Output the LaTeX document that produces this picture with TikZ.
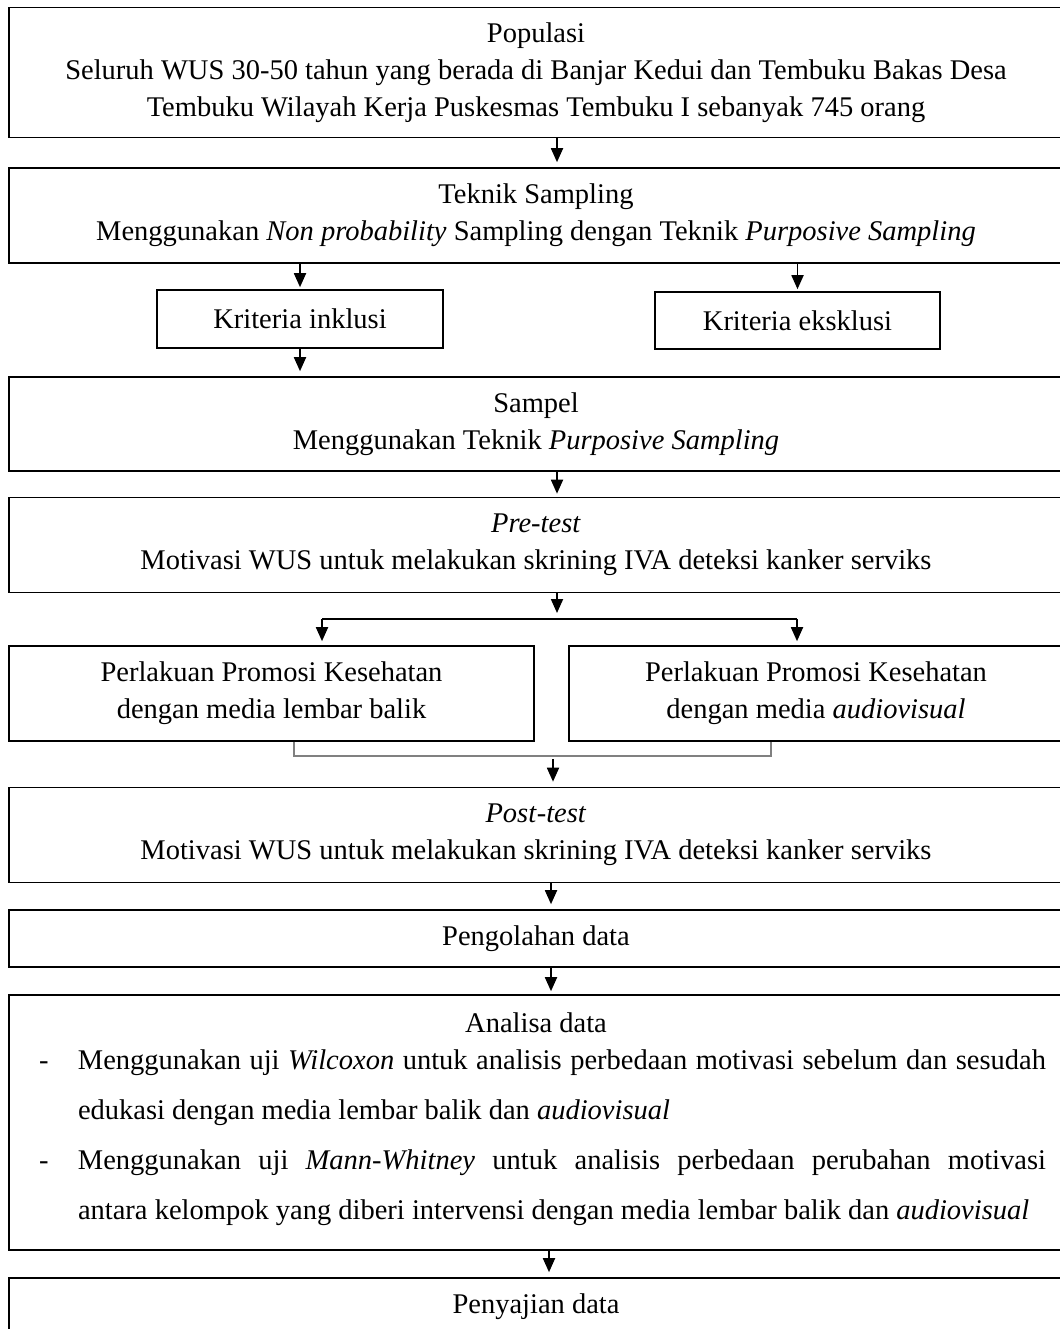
\documentclass[tikz,border=0pt]{standalone}
\usepackage{fontspec}
\setmainfont{Liberation Serif}
\usetikzlibrary{arrows.meta}

\tikzset{
  kotak/.style={draw, line width=1.6pt, inner sep=0pt, align=center,
    font=\fontsize{28.5}{37}\selectfont},
  teks/.style={inner sep=0pt, font=\fontsize{28.5}{37}\selectfont},
  panah/.style={-{Triangle[width=12pt,length=14pt]}, line width=1.8pt},
  garis/.style={line width=1.8pt},
  kurung/.style={draw=gray, line width=1.5pt},
}

\begin{document}
\begin{tikzpicture}[x=1pt,y=-1pt]
    \useasboundingbox (0,0) rectangle (1059,1329);

    % kotak utama
    \node[kotak, minimum width=1054pt, minimum height=130pt] (populasi) at (536,72.5)
        {Populasi\\Seluruh WUS 30-50 tahun yang berada di Banjar Kedui dan Tembuku Bakas Desa\\Tembuku Wilayah Kerja Puskesmas Tembuku I sebanyak 745 orang};
    \node[kotak, minimum width=1054pt, minimum height=95pt] (teknik) at (536,215.5)
        {Teknik Sampling\\Menggunakan \textit{Non probability} Sampling dengan Teknik \textit{Purposive Sampling}};

    \node[kotak, minimum width=286pt, minimum height=58pt] (inklusi) at (300,319) {Kriteria inklusi};
    \node[kotak, minimum width=285pt, minimum height=57pt] (eksklusi) at (797.5,320.5) {Kriteria eksklusi};

    \node[kotak, minimum width=1054pt, minimum height=94pt] (sampel) at (536,424)
        {Sampel\\Menggunakan Teknik \textit{Purposive Sampling}};
    \node[kotak, minimum width=1054pt, minimum height=95pt] (pretest) at (536,545)
        {\textit{Pre}-\textit{test}\\Motivasi WUS untuk melakukan skrining IVA deteksi kanker serviks};

    \node[kotak, minimum width=525pt, minimum height=95pt] (lembar) at (271.5,693.5)
        {Perlakuan Promosi Kesehatan\\dengan media lembar balik};
    \node[kotak, minimum width=494pt, minimum height=95pt] (audio) at (816,693.5)
        {Perlakuan Promosi Kesehatan\\dengan media \textit{audiovisual}};

    \node[kotak, minimum width=1054pt, minimum height=95pt] (posttest) at (536,835)
        {\textit{Post}-\textit{test}\\Motivasi WUS untuk melakukan skrining IVA deteksi kanker serviks};
    \node[kotak, minimum width=1054pt, minimum height=57pt] (olah) at (536,938.5) {Pengolahan data};

    \node[kotak, minimum width=1054pt, minimum height=255pt] (analisa) at (536,1122.5) {};
    \node[teks] (judulanalisa) at (536,1023) {Analisa data};
    \node[teks, font=\fontsize{28.5}{50}\selectfont, text width=1007pt, align=justify] (isianalisa) at (542.5,1138)
        {\hyphenpenalty=10000\exhyphenpenalty=10000\parindent=0pt
         \hangindent=39pt\hangafter=1\makebox[39pt][l]{-}Menggunakan uji \textit{Wilcoxon} untuk analisis perbedaan motivasi sebelum dan sesudah\linebreak edukasi dengan media lembar balik dan \textit{audiovisual}\par
         \hangindent=39pt\hangafter=1\makebox[39pt][l]{-}Menggunakan uji \textit{Mann-Whitney} untuk analisis perbedaan perubahan motivasi\linebreak antara kelompok yang diberi intervensi dengan media lembar balik dan \textit{audiovisual}\par};

    \node[kotak, minimum width=1054pt, minimum height=58pt] (saji) at (536,1307) {Penyajian data};

    % titik bantu
    \coordinate (a1) at (557,0);
    \coordinate (a2) at (551,0);
    \coordinate (a3) at (549,0);
    \coordinate (cabang) at (557,619);
    \coordinate (kiri) at (322,619);
    \coordinate (kanan) at (797,619);
    \coordinate (k1) at (294,756);
    \coordinate (k2) at (771,756);
    \coordinate (gabung) at (553,759);

    % panah
    \draw[panah, shorten >=5pt] (populasi.south -| a1) -- (teknik.north -| a1);
    \draw[panah, shorten >=2pt] (teknik.south -| inklusi) -- (inklusi.north);
    \draw[panah, shorten >=2pt] (teknik.south -| eksklusi) -- (eksklusi.north);
    \draw[panah, shorten >=5pt] (inklusi.south) -- (sampel.north -| inklusi);
    \draw[panah, shorten >=3pt] (sampel.south -| a1) -- (pretest.north -| a1);

    \draw[panah, shorten >=6pt] (pretest.south -| cabang) -- (cabang);
    \draw[garis] (kiri) -- (kanan);
    \draw[panah, shorten >=4pt] (kiri) -- (kiri |- lembar.north);
    \draw[panah, shorten >=4pt] (kanan) -- (kanan |- audio.north);

    \draw[kurung] (lembar.south -| k1) -- (k1) -- (k2) -- (audio.south -| k2);
    \draw[panah, shorten >=5pt] (gabung) -- (gabung |- posttest.north);

    \draw[panah, shorten >=5pt] (posttest.south -| a2) -- (olah.north -| a2);
    \draw[panah, shorten >=3pt] (olah.south -| a2) -- (analisa.north -| a2);
    \draw[panah, shorten >=5pt] (analisa.south -| a3) -- (saji.north -| a3);

\end{tikzpicture}
\end{document}
